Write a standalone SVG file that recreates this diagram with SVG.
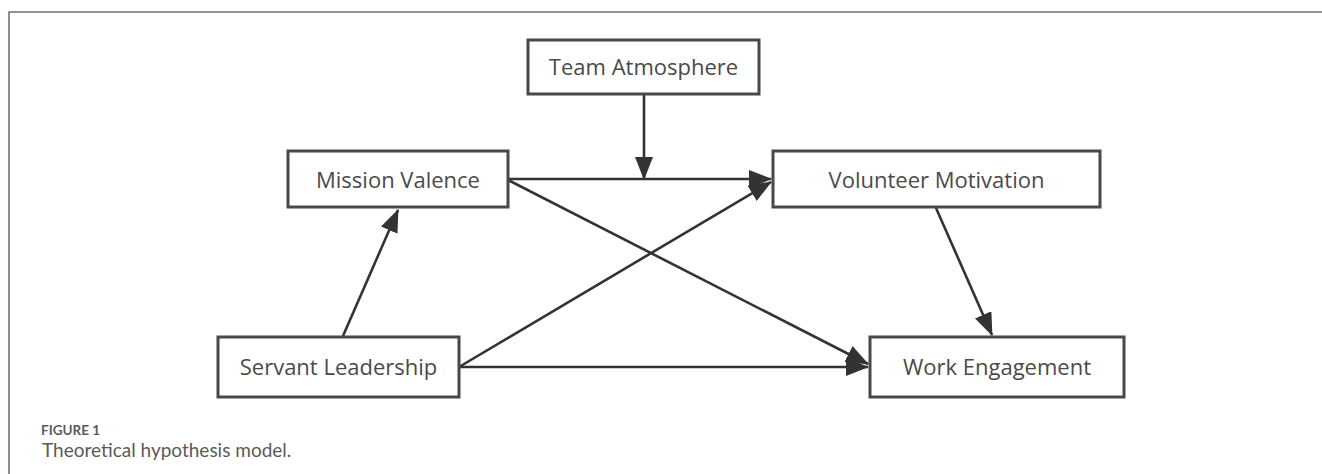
<svg xmlns="http://www.w3.org/2000/svg" width="1322" height="474" viewBox="0 0 1322 474">
<style>
.box{fill:#fff;stroke:#484848;stroke-width:3}
.lbl{font-family:"Open Sans","Noto Sans",sans-serif;font-size:22px;fill:#4a4a4a;text-anchor:middle}
.conn{stroke:#333;stroke-width:2.6;fill:none;marker-end:url(#ah)}
.cap1{font-family:Lato,"Open Sans",sans-serif;font-size:13.5px;font-weight:bold;fill:#5a5a5a}
.cap2{font-family:Lato,"Open Sans",sans-serif;font-size:19px;fill:#5a5a5a}
</style>
<defs>
<marker id="ah" markerUnits="userSpaceOnUse" markerWidth="24" markerHeight="18" refX="22" refY="9" orient="auto">
<path d="M0,0 L23,9 L0,18 z" fill="#333"/>
</marker>
</defs>
<rect width="1322" height="474" fill="#fff"/>
<path d="M9,474 V12 H1322" fill="none" stroke="#6c6f7d" stroke-width="1.6"/>
<g id="connectors">
<line class="conn" x1="644" y1="95" x2="644" y2="179"/>
<line class="conn" x1="508" y1="179" x2="771" y2="179"/>
<line class="conn" x1="343" y1="336" x2="398" y2="210"/>
<line class="conn" x1="508" y1="180" x2="868" y2="364"/>
<line class="conn" x1="459" y1="367" x2="771" y2="182"/>
<line class="conn" x1="459" y1="367" x2="868" y2="367"/>
<line class="conn" x1="936" y1="208" x2="992" y2="335"/>
</g>
<g id="team-atmosphere">
<rect class="box" x="528" y="40" width="231" height="54"/>
<text class="lbl" x="643.5" y="75">Team Atmosphere</text>
</g>
<g id="mission-valence">
<rect class="box" x="288" y="151" width="220" height="56"/>
<text class="lbl" x="398" y="188">Mission Valence</text>
</g>
<g id="volunteer-motivation">
<rect class="box" x="773" y="151" width="327" height="56"/>
<text class="lbl" x="936.5" y="188">Volunteer Motivation</text>
</g>
<g id="servant-leadership">
<rect class="box" x="218" y="337" width="241" height="60"/>
<text class="lbl" x="338.5" y="375">Servant Leadership</text>
</g>
<g id="work-engagement">
<rect class="box" x="870" y="337" width="254" height="60"/>
<text class="lbl" x="997" y="375">Work Engagement</text>
</g>
<g id="caption">
<text class="cap1" x="41" y="435">FIGURE 1</text>
<text class="cap2" x="42" y="457">Theoretical hypothesis model.</text>
</g>
</svg>
